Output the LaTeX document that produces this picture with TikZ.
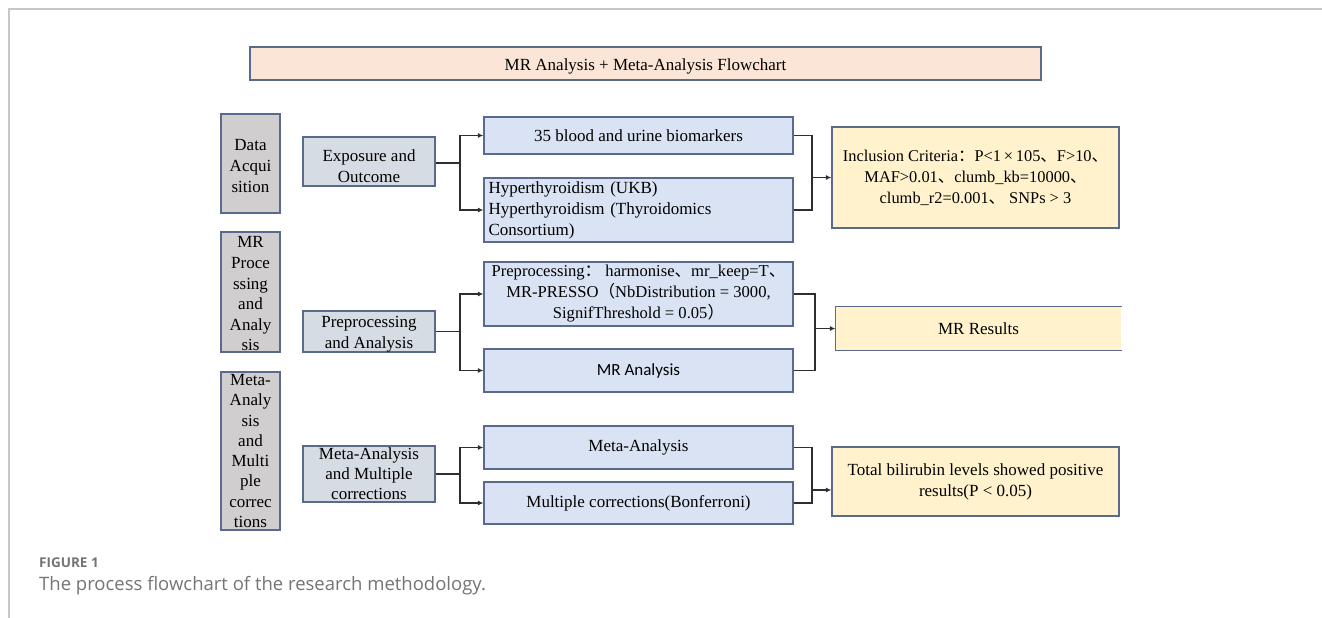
\documentclass[tikz,border=0pt]{standalone}
\usepackage{fontspec}
\setmainfont{Liberation Serif}
\newfontfamily\cjk{Noto Sans CJK SC}
\newfontfamily\carlito{Carlito}
\newfontfamily\capfont{Open Sans}
\usetikzlibrary{arrows.meta}
\definecolor{bordc}{HTML}{5A6A8C}
\definecolor{peach}{HTML}{FBE5D6}
\definecolor{greyb}{HTML}{D0CECE}
\definecolor{slate}{HTML}{D6DCE4}
\definecolor{lblue}{HTML}{DAE3F3}
\definecolor{lyell}{HTML}{FFF2CC}
\definecolor{linec}{HTML}{2E2E2E}
\definecolor{capc}{HTML}{747474}
\definecolor{framec}{HTML}{C8C8C8}
\tikzset{
  box/.style={draw=bordc, line width=1.2pt, inner sep=0pt, font=\fontsize{17}{21}\selectfont},
  titlebox/.style={box, fill=peach},
  greybox/.style={box, fill=greyb, align=center},
  slatebox/.style={box, fill=slate, align=center},
  bluebox/.style={box, fill=lblue, align=center},
  yellbox/.style={box, fill=lyell, align=center},
  txt/.style={inner sep=0pt, align=center, font=\fontsize{17}{21}\selectfont},
  conn/.style={draw=linec, line width=1.4pt},
  arr/.style={conn, -{Latex[length=5.5pt,width=5pt]}},
}
\begin{document}
\begin{tikzpicture}[x=1pt,y=-1pt]
\useasboundingbox (0,0) rectangle (1322,618);
% frame
\draw[framec, line width=1.2pt] (9,618) -- (9,9) -- (1322,9);
% title
\node[titlebox, minimum width=791pt, minimum height=33pt] (title) at (645.5,63.5) {};
\node[txt] (title-t) at ([yshift=-2.5pt]title.center) {MR Analysis + Meta-Analysis Flowchart};
% left grey boxes
\node[greybox, minimum width=59pt, minimum height=99pt] (da) at (250.5,163.5) {};
\node[txt] (da-t) at ([yshift=-3pt]da.center) {Data\\Acqui\\sition};
\node[greybox, minimum width=59pt, minimum height=120pt] (mrp) at (250.5,292) {};
\node[txt, font=\fontsize{17}{20.6}\selectfont] (mrp-t) at ([yshift=-2pt]mrp.center) {MR\\Proce\\ssing\\and\\Analy\\sis};
\node[greybox, minimum width=59pt, minimum height=158pt, font=\fontsize{17}{20.3}\selectfont] (mg) at (250.5,451) {Meta-\\Analy\\sis\\and\\Multi\\ple\\correc\\tions};
% middle boxes
\node[slatebox, minimum width=132pt, minimum height=49pt] (expo) at (369,161.5) {};
\node[txt] (expo-t) at ([yshift=-5pt]expo.center) {Exposure and\\Outcome};
\node[slatebox, minimum width=132pt, minimum height=41pt] (prep) at (369,331.5) {};
\node[txt] (prep-t) at ([yshift=-3pt]prep.center) {Preprocessing\\and Analysis};
\node[slatebox, minimum width=132pt, minimum height=56pt, font=\fontsize{17}{20}\selectfont] (metam) at (369,474) {Meta-Analysis\\and Multiple\\corrections};
% right blue boxes
\node[bluebox, minimum width=309pt, minimum height=37pt] (bio) at (638.5,135.5) {35 blood and urine biomarkers};
\node[bluebox, minimum width=309pt, minimum height=64pt, text width=300pt, align=left] (hyper) at (638.5,210) {Hyperthyroidism (UKB)\\Hyperthyroidism (Thyroidomics\\Consortium)};
\node[bluebox, minimum width=309pt, minimum height=64pt, font=\fontsize{16.6}{21}\selectfont] (preproc) at (638.5,294) {Preprocessing{\cjk ：}\ harmonise{\cjk 、}mr\_keep=T{\cjk 、}\\MR-PRESSO{\cjk （}NbDistribution = 3000,\\SignifThreshold = 0.05{\cjk ）}};
\node[bluebox, minimum width=309pt, minimum height=43pt, font=\carlito\fontsize{17}{21}\selectfont] (mra) at (638.5,370.5) {MR Analysis};
\node[bluebox, minimum width=309pt, minimum height=43pt] (metaa) at (638.5,447.5) {Meta-Analysis};
\node[bluebox, minimum width=309pt, minimum height=42pt] (mult) at (638.5,503) {Multiple corrections(Bonferroni)};
% yellow result boxes
\node[yellbox, minimum width=287pt, minimum height=101pt, font=\fontsize{16.4}{21}\selectfont] (incl) at (975.5,177.5) {Inclusion Criteria{\cjk ：}P<1\,×\,105{\cjk 、}F>10{\cjk 、}\\MAF>0.01{\cjk 、}clumb\_kb=10000{\cjk 、}\\clumb\_r2=0.001{\cjk 、} SNPs > 3};
\node[box, draw=none, fill=lyell, minimum width=285pt, minimum height=43pt] (mrres) at (978.5,328.5) {MR Results};
\draw[bordc, line width=1.2pt] (mrres.north east) -- (mrres.north west) -- (mrres.south west) -- (mrres.south east);
\node[yellbox, minimum width=287pt, minimum height=69pt] (total) at (975.5,481.5) {Total bilirubin levels showed positive\\results(P < 0.05)};
% junctions
\coordinate (j1) at (460,163);
\coordinate (j2) at (460,331.5);
\coordinate (j3) at (460,474);
\coordinate (k1) at (812,177.5);
\coordinate (k2) at (815,328.5);
\coordinate (k3) at (812,490);
% group 1
\draw[conn] (expo.east |- j1) -- (j1);
\draw[arr] (j1) |- (bio.west);
\draw[arr] (j1) |- (hyper.west);
\draw[conn] (bio.east) -| (k1) |- (hyper.east);
\draw[arr] (k1) -- (incl.west);
% group 2
\draw[conn] (prep.east) -- (j2);
\draw[arr] (j2) |- (preproc.west);
\draw[arr] (j2) |- (mra.west);
\draw[conn] (preproc.east) -| (k2) |- (mra.east);
\draw[arr] (k2) -- (mrres.west);
% group 3
\draw[conn] (metam.east) -- (j3);
\draw[arr] (j3) |- (metaa.west);
\draw[arr] (j3) |- (mult.west);
\draw[conn] (metaa.east) -| (k3) |- (mult.east);
\draw[arr] (k3) -- (total.west |- k3);
% caption
\node[anchor=west, inner sep=0pt, text=capc, font=\capfont\bfseries\fontsize{13.5}{15}\selectfont] (figlab) at (39,563) {FIGURE 1};
\node[anchor=west, inner sep=0pt, text=capc, font=\capfont\fontsize{18.5}{21}\selectfont] (caption) at (39,586) {The process flowchart of the research methodology.};
\end{tikzpicture}
\end{document}
